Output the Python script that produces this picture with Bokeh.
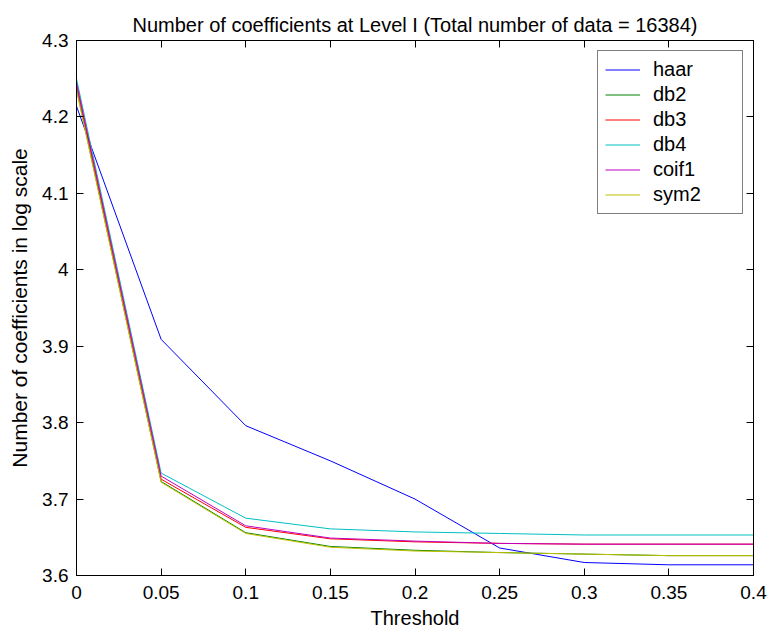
from bokeh.plotting import figure
from bokeh.models import LinearAxis, FixedTicker, Legend, LegendItem, Range1d
from bokeh.embed import file_html
from bokeh.resources import INLINE

thresholds = [0, 0.05, 0.1, 0.15, 0.2, 0.25, 0.3, 0.35, 0.4]
haar  = [4.214, 3.909, 3.796, 3.750, 3.700, 3.636, 3.617, 3.614, 3.614]
db2   = [4.237, 3.723, 3.656, 3.638, 3.633, 3.630, 3.628, 3.626, 3.626]
db3   = [4.242, 3.726, 3.663, 3.648, 3.644, 3.642, 3.641, 3.641, 3.641]
db4   = [4.250, 3.734, 3.675, 3.661, 3.657, 3.655, 3.653, 3.653, 3.653]
coif1 = [4.245, 3.730, 3.665, 3.649, 3.645, 3.642, 3.641, 3.641, 3.641]
sym2  = [4.235, 3.722, 3.655, 3.637, 3.632, 3.630, 3.628, 3.626, 3.626]

series = [("haar", haar, "#0000ff"), ("db2", db2, "#008000"), ("db3", db3, "#ff0000"),
          ("db4", db4, "#00bfbf"), ("coif1", coif1, "#bf00bf"), ("sym2", sym2, "#bfbf00")]

x_ticks = [0, 0.05, 0.1, 0.15, 0.2, 0.25, 0.3, 0.35, 0.4]
y_ticks = [3.6, 3.7, 3.8, 3.9, 4.0, 4.1, 4.2, 4.3]
x_labels = {0: "0", 0.05: "0.05", 0.1: "0.1", 0.15: "0.15", 0.2: "0.2", 0.25: "0.25",
            0.3: "0.3", 0.35: "0.35", 0.4: "0.4"}
y_labels = {3.6: "3.6", 3.7: "3.7", 3.8: "3.8", 3.9: "3.9", 4.0: "4", 4.1: "4.1", 4.2: "4.2", 4.3: "4.3"}

FONT = "Liberation Sans"
FS = "19px"

p = figure(width=771, height=632, output_backend="svg", toolbar_location=None,
           x_range=Range1d(0, 0.4), y_range=Range1d(3.6, 4.3),
           title="Number of coefficients at Level I (Total number of data = 16384)",
           min_border_left=76, min_border_right=18, min_border_top=40, min_border_bottom=57)
p.title.align = "center"
p.title.text_font = FONT
p.title.text_font_size = "20px"
p.title.text_font_style = "normal"
p.title.text_color = "black"
p.title.offset = 0

p.grid.visible = False
p.outline_line_color = "black"
p.outline_line_width = 1
p.background_fill_color = "white"
p.border_fill_color = "white"

def style_axis(ax, label_size="20px"):
    ax.axis_line_color = "black"
    ax.major_tick_line_color = "black"
    ax.major_tick_in = 7
    ax.major_tick_out = 0
    ax.minor_tick_line_color = None
    ax.major_label_text_font = FONT
    ax.major_label_text_font_size = FS
    ax.major_label_text_color = "black"
    ax.axis_label_text_font = FONT
    ax.axis_label_text_font_size = label_size
    ax.axis_label_text_font_style = "normal"
    ax.axis_label_text_color = "black"

xa = p.xaxis[0]
xa.ticker = FixedTicker(ticks=x_ticks)
xa.major_label_overrides = x_labels
xa.axis_label = "Threshold"
xa.major_label_standoff = 10
xa.axis_label_standoff = 5
style_axis(xa, label_size="20px")

ya = p.yaxis[0]
ya.ticker = FixedTicker(ticks=y_ticks)
ya.major_label_overrides = y_labels
ya.axis_label = "Number of coefficients in log scale"
ya.major_label_standoff = 8
ya.axis_label_standoff = 8
style_axis(ya, label_size="21px")

top = LinearAxis(ticker=FixedTicker(ticks=x_ticks), major_label_standoff=0,
                 major_label_overrides={t: "" for t in x_ticks})
style_axis(top)
p.add_layout(top, "above")
right = LinearAxis(ticker=FixedTicker(ticks=y_ticks), major_label_standoff=0,
                   major_label_overrides={t: "" for t in y_ticks})
style_axis(right)
p.add_layout(right, "right")

items = []
for name, vals, color in series:
    r = p.line(thresholds, vals, line_color=color, line_width=1)
    items.append(LegendItem(label=name, renderers=[r]))

legend = Legend(items=items, location="top_right")
legend.label_text_font = FONT
legend.label_text_font_size = "20px"
legend.label_text_color = "black"
legend.border_line_color = "black"
legend.border_line_width = 1
legend.background_fill_color = "white"
legend.background_fill_alpha = 1
legend.glyph_width = 35
legend.glyph_height = 17
legend.label_height = 17
legend.label_width = 82
legend.spacing = 2
legend.padding = 7
legend.label_standoff = 13
legend.margin = 10
p.add_layout(legend)

open("out.html", "w").write(file_html(p, INLINE))
